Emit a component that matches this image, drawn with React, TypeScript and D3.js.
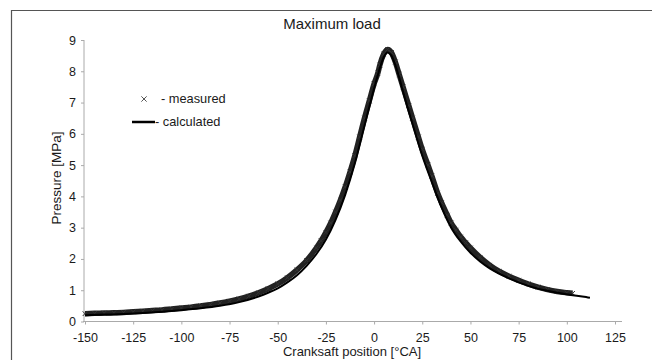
import { useEffect, useRef } from 'react';
import * as d3 from 'd3';

// crank angle [°CA] / pressure [MPa]
const measuredAngle = [
	-150, -145, -140, -135, -130, -125, -120, -115, -110, -105, -100, -95, -90, -85, -80, -75, -70,
	-65, -60, -55, -50, -45, -40, -35, -30, -27.5, -25, -22.5, -20, -17.5, -15, -12.5, -10, -7.5, -5,
	-2.5, 0, 2, 3, 5, 7, 9, 11, 13, 15, 18, 20, 23, 25, 28, 30, 33, 35, 38, 40, 42.5, 45, 47.5, 50, 55,
	60, 65, 70, 75, 80, 85, 90, 95, 100, 103,
];
const measuredPressure = [
	0.25, 0.26, 0.27, 0.28, 0.29, 0.31, 0.33, 0.35, 0.37, 0.4, 0.43, 0.46, 0.5, 0.54, 0.59, 0.65, 0.72,
	0.81, 0.92, 1.05, 1.2, 1.4, 1.65, 1.95, 2.35, 2.58, 2.85, 3.15, 3.5, 3.88, 4.3, 4.78, 5.3, 5.9, 6.5,
	7.05, 7.6, 7.95, 8.2, 8.55, 8.7, 8.6, 8.3, 7.9, 7.5, 6.9, 6.5, 5.9, 5.5, 5.0, 4.65, 4.1, 3.8, 3.4,
	3.15, 2.92, 2.7, 2.52, 2.35, 2.05, 1.8, 1.6, 1.45, 1.32, 1.2, 1.1, 1.02, 0.96, 0.92, 0.9,
];
const calculatedAngle = [
	-150, -140, -130, -120, -110, -100, -90, -80, -70, -60, -55, -50, -45, -40, -35, -30, -25, -20, -15,
	-10, -5, 0, 3, 5, 7, 9, 11, 13, 15, 20, 25, 30, 35, 40, 45, 50, 55, 60, 70, 80, 90, 100, 110, 112,
];
const calculatedPressure = [
	0.2, 0.22, 0.24, 0.27, 0.31, 0.36, 0.42, 0.5, 0.62, 0.8, 0.92, 1.06, 1.25, 1.48, 1.78, 2.15, 2.62,
	3.25, 4.05, 5.05, 6.25, 7.45, 8.1, 8.45, 8.6, 8.5, 8.2, 7.8, 7.35, 6.3, 5.3, 4.45, 3.65, 3.0, 2.55,
	2.2, 1.92, 1.7, 1.38, 1.14, 0.98, 0.87, 0.78, 0.76,
];
const xTicks = [-150, -125, -100, -75, -50, -25, 0, 25, 50, 75, 100, 125];
const yTicks = [0, 1, 2, 3, 4, 5, 6, 7, 8, 9];

const FONT = '"Liberation Sans", Arial, sans-serif';

export default function App() {
	const svgRef = useRef<SVGSVGElement>(null);

	useEffect(() => {
		if (!svgRef.current) return;
		const svg = d3.select(svgRef.current);
		svg.selectAll('*').remove();

		const x = d3.scaleLinear().domain([-150, 125]).range([85, 615]);
		const y = d3.scaleLinear().domain([0, 9]).range([321.5, 40]);

		svg.append('rect').attr('width', 652).attr('height', 360).attr('fill', '#fff');

		// outer frame (top + left)
		svg
			.append('path')
			.attr('d', 'M11.5,360V10.5H652')
			.attr('fill', 'none')
			.attr('stroke', '#555')
			.attr('stroke-width', 1.2);

		// axes (plain hyphen for negatives, like the original)
		const xAxis = svg
			.append('g')
			.attr('transform', `translate(0,${y(0)})`)
			.call(
				d3
					.axisBottom(x)
					.tickValues(xTicks)
					.tickFormat((d) => String(d))
					.tickSize(3)
					.tickPadding(9)
					.tickSizeOuter(0),
			);
		xAxis.select('.domain').remove();
		const yAxis = svg
			.append('g')
			.attr('transform', `translate(${x(-150) - 1},0)`)
			.call(
				d3
					.axisLeft(y)
					.tickValues(yTicks)
					.tickFormat((d) => String(d))
					.tickSize(3)
					.tickPadding(5)
					.tickSizeOuter(0),
			);
		yAxis.select('.domain').remove();

		[xAxis, yAxis].forEach((g) => {
			g.selectAll('line').attr('stroke', '#aaa');
			g.selectAll('text')
				.attr('fill', '#1a1a1a')
				.style('font-family', FONT)
				.style('font-size', '12.5px');
		});

		svg
			.append('line')
			.attr('x1', 83)
			.attr('x2', 622)
			.attr('y1', y(0))
			.attr('y2', y(0))
			.attr('stroke', '#aaa');
		svg
			.append('line')
			.attr('x1', x(-150) - 1)
			.attr('x2', x(-150) - 1)
			.attr('y1', y(9))
			.attr('y2', y(0))
			.attr('stroke', '#aaa');

		// measured band: dense crosses drawn over a thick trace
		const measured = measuredAngle.map((a, i) => [a, measuredPressure[i]] as [number, number]);
		const calculated = calculatedAngle.map((a, i) => [a, calculatedPressure[i]] as [number, number]);

		const line = d3
			.line<[number, number]>()
			.x((d) => x(d[0]))
			.y((d) => y(d[1]))
			.curve(d3.curveMonotoneX);

		svg
			.append('path')
			.datum(measured)
			.attr('d', line)
			.attr('fill', 'none')
			.attr('stroke', '#222')
			.attr('stroke-width', 5.5);

		const cross = d3.symbol().type(d3.symbolX).size(16);
		svg
			.append('g')
			.selectAll('path')
			.data(measured)
			.join('path')
			.attr('transform', (d) => `translate(${x(d[0])},${y(d[1])})`)
			.attr('d', cross)
			.attr('fill', 'none')
			.attr('stroke', '#333')
			.attr('stroke-width', 1);

		svg
			.append('path')
			.datum(calculated)
			.attr('d', line)
			.attr('fill', 'none')
			.attr('stroke', '#000')
			.attr('stroke-width', 2);

		// legend
		svg
			.append('path')
			.attr('transform', 'translate(144,99)')
			.attr('d', d3.symbol().type(d3.symbolX).size(20)())
			.attr('fill', 'none')
			.attr('stroke', '#555')
			.attr('stroke-width', 1);
		svg
			.append('line')
			.attr('x1', 132)
			.attr('x2', 155)
			.attr('y1', 122)
			.attr('y2', 122)
			.attr('stroke', '#000')
			.attr('stroke-width', 2.5);

		const text = (tx: number, ty: number, s: string, size: number, anchor = 'start') =>
			svg
				.append('text')
				.attr('x', tx)
				.attr('y', ty)
				.attr('text-anchor', anchor)
				.attr('fill', '#1a1a1a')
				.style('font-family', FONT)
				.style('font-size', `${size}px`)
				.text(s);

		text(161, 103, '- measured', 12.8);
		text(155, 126, '- calculated', 12.8);
		text(332, 29, 'Maximum load', 15, 'middle');
		text(352, 356, 'Cranksaft position [°CA]', 13, 'middle');
		text(0, 0, 'Pressure [MPa]', 13.5, 'middle').attr(
			'transform',
			'translate(61,178) rotate(-90)',
		);
	}, []);

	return (
		<svg
			ref={svgRef}
			width={652}
			height={360}
			style={{ position: 'absolute', left: 0, top: 0, display: 'block' }}
		/>
	);
}
